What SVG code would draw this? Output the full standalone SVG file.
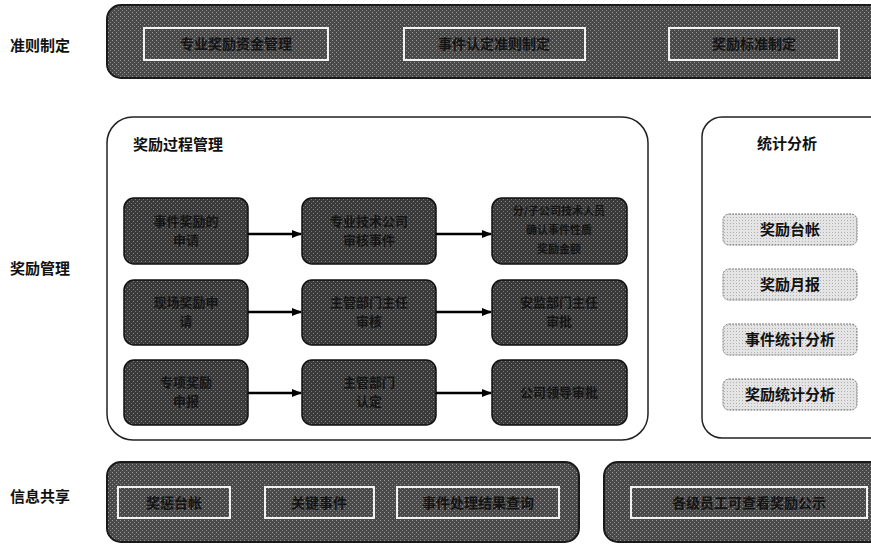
<svg xmlns="http://www.w3.org/2000/svg" width="871" height="544" viewBox="0 0 871 544">
<defs>
<pattern id="dots" width="4" height="4" patternUnits="userSpaceOnUse">
<rect width="4" height="4" fill="#4a4a4a"/>
<rect x="0" y="0" width="1" height="1" fill="#9a9a9a"/>
<rect x="2" y="2" width="1" height="1" fill="#8a8a8a"/>
</pattern>
<pattern id="dots2" width="4" height="4" patternUnits="userSpaceOnUse">
<rect width="4" height="4" fill="#3a3a3a"/>
<rect x="1" y="1" width="1" height="1" fill="#888"/>
<rect x="3" y="3" width="1" height="1" fill="#777"/>
</pattern>
<pattern id="light" width="3" height="3" patternUnits="userSpaceOnUse">
<rect width="3" height="3" fill="#e4e4e4"/>
<rect x="1" y="1" width="1" height="1" fill="#b0b0b0"/>
</pattern>
<marker id="arr" markerWidth="10" markerHeight="10" refX="9" refY="5" orient="auto" markerUnits="userSpaceOnUse">
<path d="M0,1 L10,5 L0,9 Z" fill="#000"/>
</marker>
</defs>
<style>
text{font-family:"Noto Sans CJK SC","Liberation Sans",sans-serif;}
.lbl{font-size:15px;font-weight:bold;fill:#111;}
.band{fill:url(#dots);stroke:#1a1a1a;stroke-width:2;}
.ibox{fill:none;stroke:#f2f2f2;stroke-width:2;}
.itxt{font-size:14px;fill:#141414;font-weight:bold;text-anchor:middle;}
.pbox{fill:url(#dots2);stroke:#111;stroke-width:1.5;}
.ptxt{font-size:13px;fill:#151515;font-weight:bold;text-anchor:middle;}
.ptxs{font-size:11px;fill:#151515;font-weight:bold;text-anchor:middle;}
.panel{fill:#fff;stroke:#222;stroke-width:1.5;}
.title{font-size:15px;font-weight:bold;fill:#111;}
.sbox{fill:url(#light);stroke:#777;stroke-width:1;stroke-dasharray:2 1;}
.stxt{font-size:15px;font-weight:bold;fill:#111;text-anchor:middle;}
.conn{stroke:#000;stroke-width:2.5;fill:none;marker-end:url(#arr);}
</style>

<g id="labels">
<text class="lbl" x="10" y="51">准则制定</text>
<text class="lbl" x="10" y="274">奖励管理</text>
<text class="lbl" x="10" y="502">信息共享</text>
</g>

<g id="band-rules">
<rect class="band" x="107" y="5" width="780" height="73" rx="14"/>
<g id="r1"><rect class="ibox" x="144" y="28" width="184" height="32"/><text class="itxt" x="236" y="49">专业奖励资金管理</text></g>
<g id="r2"><rect class="ibox" x="404" y="28" width="181" height="32"/><text class="itxt" x="494" y="49">事件认定准则制定</text></g>
<g id="r3"><rect class="ibox" x="669" y="28" width="170" height="32"/><text class="itxt" x="754" y="49">奖励标准制定</text></g>
</g>

<g id="panel-process">
<rect class="panel" x="107" y="117" width="541" height="323" rx="26"/>
<text class="title" x="133" y="150">奖励过程管理</text>
</g>

<g id="p11"><rect class="pbox" x="124" y="198" width="124" height="66" rx="10"/><text class="ptxt" x="186" y="226">事件奖励的</text><text class="ptxt" x="186" y="245">申请</text></g>
<g id="p12"><rect class="pbox" x="302" y="198" width="134" height="66" rx="10"/><text class="ptxt" x="369" y="226">专业技术公司</text><text class="ptxt" x="369" y="245">审核事件</text></g>
<g id="p13"><rect class="pbox" x="492" y="198" width="135" height="66" rx="10"/><text class="ptxs" x="559" y="215">分/子公司技术人员</text><text class="ptxs" x="559" y="234">确认事件性质</text><text class="ptxs" x="559" y="253">奖励金额</text></g>

<g id="p21"><rect class="pbox" x="124" y="280" width="124" height="65" rx="10"/><text class="ptxt" x="186" y="307">现场奖励申</text><text class="ptxt" x="186" y="326">请</text></g>
<g id="p22"><rect class="pbox" x="302" y="280" width="134" height="65" rx="10"/><text class="ptxt" x="369" y="307">主管部门主任</text><text class="ptxt" x="369" y="326">审核</text></g>
<g id="p23"><rect class="pbox" x="492" y="280" width="135" height="65" rx="10"/><text class="ptxt" x="559" y="307">安监部门主任</text><text class="ptxt" x="559" y="326">审批</text></g>

<g id="p31"><rect class="pbox" x="124" y="360" width="124" height="65" rx="10"/><text class="ptxt" x="186" y="387">专项奖励</text><text class="ptxt" x="186" y="406">申报</text></g>
<g id="p32"><rect class="pbox" x="302" y="360" width="134" height="65" rx="10"/><text class="ptxt" x="369" y="387">主管部门</text><text class="ptxt" x="369" y="406">认定</text></g>
<g id="p33"><rect class="pbox" x="492" y="360" width="135" height="65" rx="10"/><text class="ptxt" x="559" y="397">公司领导审批</text></g>

<g id="connectors">
<line class="conn" x1="248" y1="234" x2="301" y2="234"/>
<line class="conn" x1="436" y1="234" x2="491" y2="234"/>
<line class="conn" x1="248" y1="312" x2="301" y2="312"/>
<line class="conn" x1="436" y1="312" x2="491" y2="312"/>
<line class="conn" x1="248" y1="393" x2="301" y2="393"/>
<line class="conn" x1="436" y1="393" x2="491" y2="393"/>
</g>

<g id="panel-stats">
<rect class="panel" x="702" y="117" width="190" height="321" rx="20"/>
<text class="title" x="787" y="149" text-anchor="middle">统计分析</text>
</g>
<g id="s1"><rect class="sbox" x="723" y="214" width="134" height="31" rx="6"/><text class="stxt" x="790" y="235">奖励台帐</text></g>
<g id="s2"><rect class="sbox" x="723" y="269" width="134" height="31" rx="6"/><text class="stxt" x="790" y="290">奖励月报</text></g>
<g id="s3"><rect class="sbox" x="723" y="324" width="134" height="31" rx="6"/><text class="stxt" x="790" y="345">事件统计分析</text></g>
<g id="s4"><rect class="sbox" x="723" y="379" width="134" height="31" rx="6"/><text class="stxt" x="790" y="400">奖励统计分析</text></g>

<g id="band-share1">
<rect class="band" x="107" y="462" width="472" height="80" rx="14"/>
<g id="b1"><rect class="ibox" x="118" y="487" width="112" height="31"/><text class="itxt" x="174" y="508">奖惩台帐</text></g>
<g id="b2"><rect class="ibox" x="265" y="487" width="109" height="31"/><text class="itxt" x="319" y="508">关键事件</text></g>
<g id="b3"><rect class="ibox" x="397" y="487" width="162" height="31"/><text class="itxt" x="478" y="508">事件处理结果查询</text></g>
</g>

<g id="band-share2">
<rect class="band" x="604" y="462" width="290" height="80" rx="14"/>
<g id="b4"><rect class="ibox" x="631" y="487" width="236" height="31"/><text class="itxt" x="749" y="508">各级员工可查看奖励公示</text></g>
</g>
</svg>
